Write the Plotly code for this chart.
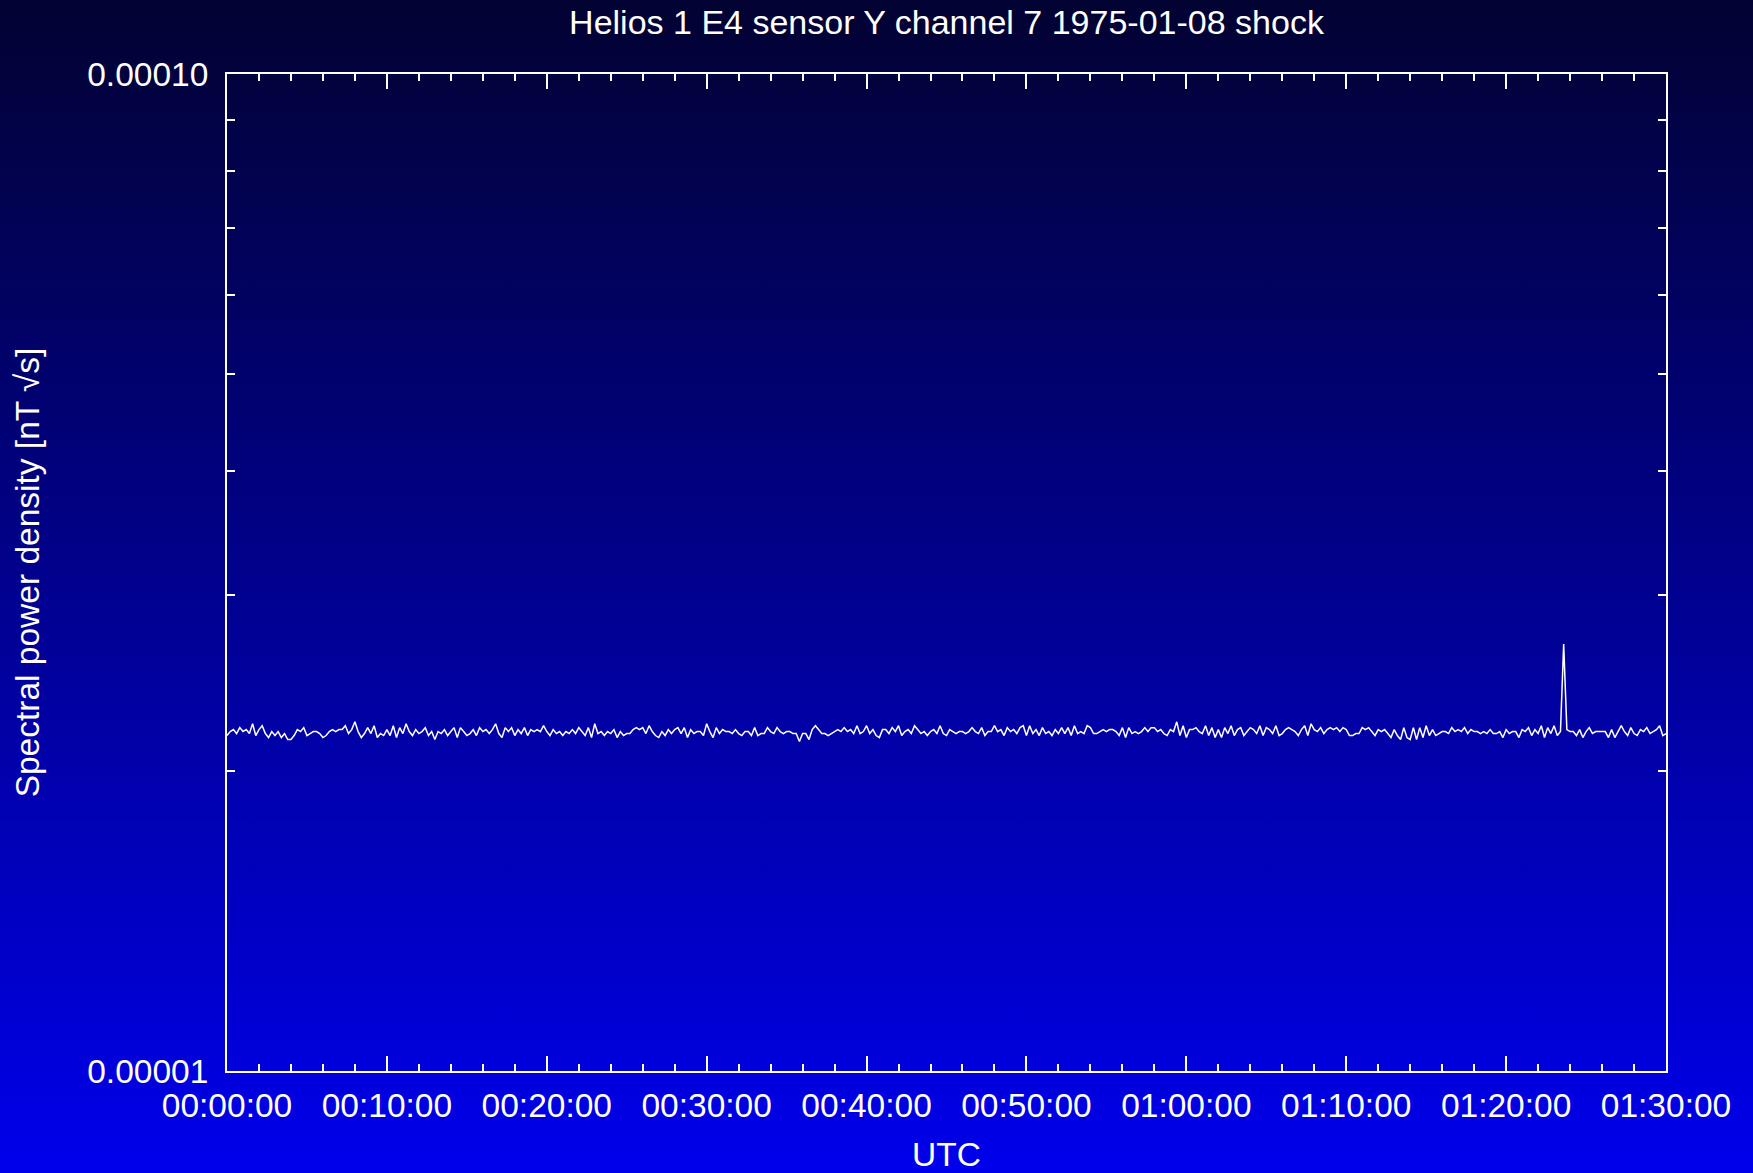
import base64
import pandas as pd
import plotly.graph_objects as go

# Helios 1, E4 search-coil sensor Y, channel 7 — spectral power density
# sampled every 12 s from 00:00:00 to 01:30:00 UTC on 1975-01-08.
start_time = "1975-01-08 00:00:00"
sample_step_s = 12

# values in units of 1e-5 nT·√s
psd_e5 = [
    # 00:00 - 00:18
    2.17, 2.19, 2.20, 2.18, 2.21, 2.19, 2.20, 2.18, 2.23, 2.17, 2.20, 2.22, 2.18, 2.16, 2.19,
    2.17, 2.19, 2.16, 2.18, 2.15, 2.15, 2.17, 2.20, 2.19, 2.21, 2.17, 2.18, 2.19, 2.19, 2.18,
    2.16, 2.17, 2.19, 2.20, 2.19, 2.20, 2.20, 2.22, 2.18, 2.20, 2.24, 2.19, 2.16, 2.18, 2.21,
    2.18, 2.22, 2.16, 2.18, 2.17, 2.20, 2.17, 2.22, 2.16, 2.21, 2.18, 2.23, 2.19, 2.17, 2.20,
    2.18, 2.19, 2.21, 2.17, 2.19, 2.15, 2.19, 2.18, 2.20, 2.17, 2.19, 2.21, 2.16, 2.21, 2.19,
    2.17, 2.18, 2.20, 2.17, 2.21, 2.19, 2.20, 2.18, 2.20, 2.23, 2.18, 2.16, 2.21, 2.19, 2.21,
    # 00:18 - 00:36
    2.17, 2.20, 2.18, 2.21, 2.17, 2.20, 2.19, 2.20, 2.19, 2.22, 2.19, 2.17, 2.20, 2.18, 2.19,
    2.17, 2.19, 2.18, 2.20, 2.18, 2.21, 2.19, 2.17, 2.21, 2.16, 2.23, 2.18, 2.19, 2.17, 2.19,
    2.18, 2.20, 2.16, 2.19, 2.17, 2.18, 2.18, 2.20, 2.21, 2.20, 2.21, 2.18, 2.22, 2.19, 2.17,
    2.16, 2.19, 2.17, 2.20, 2.18, 2.20, 2.21, 2.18, 2.21, 2.16, 2.20, 2.18, 2.19, 2.19, 2.17,
    2.23, 2.19, 2.16, 2.21, 2.18, 2.20, 2.19, 2.19, 2.18, 2.20, 2.18, 2.17, 2.19, 2.19, 2.17,
    2.21, 2.17, 2.18, 2.18, 2.21, 2.19, 2.18, 2.21, 2.19, 2.18, 2.19, 2.19, 2.18, 2.18, 2.14,
    # 00:36 - 00:54
    2.18, 2.18, 2.15, 2.20, 2.22, 2.20, 2.18, 2.18, 2.17, 2.18, 2.19, 2.20, 2.19, 2.21, 2.19,
    2.20, 2.18, 2.22, 2.18, 2.19, 2.22, 2.18, 2.20, 2.17, 2.16, 2.20, 2.20, 2.18, 2.21, 2.19,
    2.22, 2.17, 2.19, 2.20, 2.18, 2.22, 2.20, 2.18, 2.19, 2.17, 2.19, 2.20, 2.18, 2.22, 2.18,
    2.17, 2.20, 2.19, 2.18, 2.19, 2.19, 2.18, 2.19, 2.21, 2.19, 2.18, 2.21, 2.17, 2.19, 2.19,
    2.22, 2.19, 2.20, 2.17, 2.21, 2.19, 2.20, 2.18, 2.21, 2.22, 2.17, 2.22, 2.18, 2.20, 2.17,
    2.21, 2.18, 2.19, 2.17, 2.20, 2.18, 2.21, 2.18, 2.21, 2.17, 2.22, 2.18, 2.19, 2.18, 2.22,
    # 00:54 - 01:12
    2.21, 2.18, 2.18, 2.19, 2.20, 2.19, 2.20, 2.20, 2.19, 2.17, 2.21, 2.16, 2.21, 2.18, 2.19,
    2.18, 2.19, 2.21, 2.19, 2.21, 2.21, 2.19, 2.20, 2.18, 2.17, 2.20, 2.19, 2.24, 2.17, 2.22,
    2.16, 2.20, 2.20, 2.21, 2.19, 2.18, 2.22, 2.17, 2.21, 2.16, 2.20, 2.16, 2.21, 2.18, 2.22,
    2.17, 2.20, 2.21, 2.17, 2.19, 2.21, 2.20, 2.18, 2.22, 2.17, 2.21, 2.20, 2.18, 2.22, 2.17,
    2.18, 2.20, 2.21, 2.20, 2.19, 2.17, 2.20, 2.22, 2.17, 2.23, 2.20, 2.19, 2.21, 2.18, 2.20,
    2.21, 2.20, 2.21, 2.19, 2.21, 2.20, 2.17, 2.17, 2.18, 2.18, 2.21, 2.20, 2.21, 2.19, 2.17,
    # 01:12 - 01:30
    2.20, 2.19, 2.20, 2.18, 2.16, 2.20, 2.17, 2.15, 2.21, 2.16, 2.15, 2.21, 2.15, 2.21, 2.16,
    2.22, 2.17, 2.20, 2.17, 2.18, 2.19, 2.19, 2.18, 2.21, 2.19, 2.20, 2.19, 2.21, 2.18, 2.20,
    2.19, 2.19, 2.18, 2.19, 2.18, 2.20, 2.18, 2.18, 2.19, 2.16, 2.20, 2.18, 2.19, 2.19, 2.16,
    2.20, 2.19, 2.21, 2.17, 2.20, 2.18, 2.22, 2.16, 2.21, 2.18, 2.22, 2.17, 2.19,
    2.68,
    2.20, 2.19, 2.19, 2.17, 2.20, 2.16, 2.19, 2.21, 2.18, 2.19, 2.19, 2.19, 2.19, 2.16, 2.20, 2.16,
    2.19, 2.22, 2.19, 2.17, 2.21, 2.18, 2.17, 2.20, 2.19, 2.21, 2.18, 2.19, 2.20, 2.22, 2.17, 2.18,
]

y_tick_values = [1e-5, 2e-5, 3e-5, 4e-5, 5e-5, 6e-5, 7e-5, 8e-5, 9e-5, 1e-4]
y_tick_labels = ["0.00001", "", "", "", "", "", "", "", "", "0.00010"]

times = pd.date_range(start_time, periods=len(psd_e5), freq=f"{sample_step_s}s")
psd = [v * 1e-5 for v in psd_e5]

W, H = 1753, 1173
ML, MR, MT, MB = 227, 87, 74, 102
PW, PH = W - ML - MR, H - MT - MB
FONT = "Liberation Sans, Arial, sans-serif"
FS = 33.5

# page-wide vertical gradient, navy at the top to bright blue at the bottom
svg = (
    f'<svg xmlns="http://www.w3.org/2000/svg" width="{W}" height="{H}" '
    f'preserveAspectRatio="none" viewBox="0 0 {W} {H}">'
    '<defs><linearGradient id="g" x1="0" y1="0" x2="0" y2="1">'
    '<stop offset="0" stop-color="rgb(2,2,50)"/>'
    '<stop offset="1" stop-color="rgb(0,0,236)"/>'
    '</linearGradient></defs>'
    f'<rect x="0" y="0" width="{W}" height="{H}" fill="url(#g)"/></svg>'
)
bg_uri = "data:image/svg+xml;base64," + base64.b64encode(svg.encode()).decode()

fig = go.Figure()
fig.add_trace(go.Scatter(
    x=times, y=psd, mode="lines",
    line=dict(color="white", width=1.5),
    showlegend=False, hoverinfo="x+y",
))

fig.update_layout(
    width=W, height=H,
    margin=dict(l=ML, r=MR, t=MT, b=MB),
    paper_bgcolor="rgba(0,0,0,0)",
    plot_bgcolor="rgba(0,0,0,0)",
    font=dict(family=FONT, color="white", size=FS),
    title=dict(
        text="Helios 1 E4 sensor Y channel 7 1975-01-08 shock",
        x=0.5, xanchor="center", xref="paper",
        y=1 - 22 / H, yanchor="middle", yref="container",
        font=dict(size=34, color="white", family=FONT),
    ),
    images=[dict(
        source=bg_uri, xref="paper", yref="paper",
        x=-ML / PW, y=1 + MT / PH, sizex=W / PW, sizey=H / PH,
        xanchor="left", yanchor="top", sizing="stretch", layer="below",
    )],
)

fig.update_xaxes(
    type="date",
    range=["1975-01-08 00:00:00", "1975-01-08 01:30:00"],
    tickformat="%H:%M:%S",
    dtick=600000, tick0="1975-01-08 00:00:00",
    ticks="inside", ticklen=15, tickwidth=2, tickcolor="white",
    minor=dict(dtick=120000, tick0="1975-01-08 00:00:00",
               ticks="inside", ticklen=7, tickwidth=2, tickcolor="white"),
    showline=True, linecolor="white", linewidth=2, mirror="ticks",
    showgrid=False, zeroline=False, automargin=False,
    tickfont=dict(size=FS, color="white", family=FONT),
    ticklabelstandoff=4,
    title=dict(text="UTC", standoff=20,
               font=dict(size=FS, color="white", family=FONT)),
)

fig.update_yaxes(
    type="log", range=[-5, -4],
    tickmode="array", tickvals=y_tick_values, ticktext=y_tick_labels,
    ticks="inside", ticklen=8, tickwidth=2, tickcolor="white",
    showline=True, linecolor="white", linewidth=2, mirror="ticks",
    showgrid=False, zeroline=False, automargin=False,
    tickfont=dict(size=FS, color="white", family=FONT),
    ticklabelstandoff=10,
    title=dict(text="Spectral power density [nT √s]", standoff=37,
               font=dict(size=FS, color="white", family=FONT)),
)

fig.write_html("out.html")
